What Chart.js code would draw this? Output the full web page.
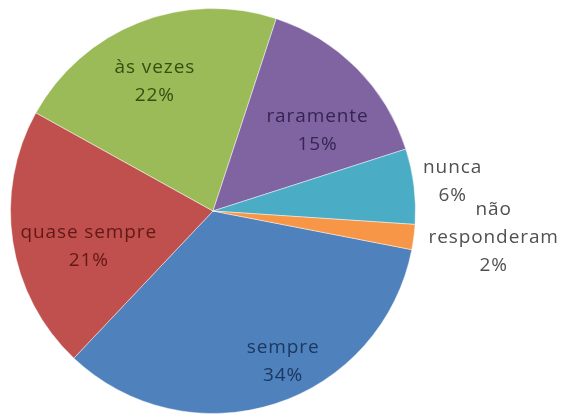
<!DOCTYPE html>
<html>
<head>
<meta charset="utf-8">
<script src="https://cdn.jsdelivr.net/npm/chart.js@4"></script>
<style>
  html, body { margin: 0; padding: 0; background: #fff; }
  #pie { display: block; }
</style>
</head>
<body>
<canvas id="pie" width="563" height="417"></canvas>
<script>
// respostas (em %)
var categorias = ['sempre', 'quase sempre', 'às vezes', 'raramente', 'nunca', 'não responderam'];
var percentuais = [34, 21, 22, 15, 6, 2];

var cores = ['#4F81BD', '#C0504D', '#9BBB59', '#8064A2', '#4BACC6', '#F79646'];
var coresTexto = ['#1B3862', '#621815', '#33500F', '#352453', '#505050', '#505050'];

// onde cada rótulo fica: fração do raio e desvio do ângulo médio (graus)
var posRotulos = [
    { r: 0.82, da: -7 },
    { r: 0.64, da: -7 },
    { r: 0.70, da: -3 },
    { r: 0.65, da: 7 },
    { r: 1.19, da: 0 },
    { r: 1.39, da: -2 }
];
var linhasRotulos = {
    5: ['não', 'responderam']
};

var rotulosPizza = {
    id: 'rotulosPizza',
    afterDatasetsDraw: function (chart) {
        var ctx = chart.ctx;
        var meta = chart.getDatasetMeta(0);
        var esp = 0.9;
        ctx.save();
        ctx.font = '19px "Open Sans"';
        ctx.letterSpacing = esp + 'px';
        ctx.textAlign = 'center';
        ctx.textBaseline = 'middle';
        meta.data.forEach(function (arc, i) {
            var p = arc.getProps(['x', 'y', 'startAngle', 'endAngle', 'outerRadius'], true);
            var ang = (p.startAngle + p.endAngle) / 2 + posRotulos[i].da * Math.PI / 180;
            var dist = p.outerRadius * posRotulos[i].r;
            var cx = p.x + Math.cos(ang) * dist;
            var cy = p.y + Math.sin(ang) * dist;
            var linhas = (linhasRotulos[i] || [categorias[i]]).concat([percentuais[i] + '%']);
            var alt = 28;
            var y0 = cy - (linhas.length - 1) * alt / 2;
            ctx.fillStyle = coresTexto[i];
            linhas.forEach(function (t, k) {
                // o espaçamento extra fica também depois da última letra
                ctx.fillText(t, cx + esp / 2, y0 + k * alt);
            });
        });
        ctx.restore();
    }
};

var ctx = document.getElementById('pie').getContext('2d');
new Chart(ctx, {
    type: 'pie',
    data: {
        labels: categorias,
        datasets: [{
            data: percentuais,
            backgroundColor: cores,
            borderColor: 'rgba(255,255,255,0.45)',
            borderWidth: 1
        }]
    },
    options: {
        responsive: false,
        animation: false,
        rotation: 101,
        layout: { padding: { left: 10, top: 8, right: 147, bottom: 3 } },
        plugins: {
            legend: { display: false },
            tooltip: { enabled: false }
        }
    },
    plugins: [rotulosPizza]
});
</script>
</body>
</html>
